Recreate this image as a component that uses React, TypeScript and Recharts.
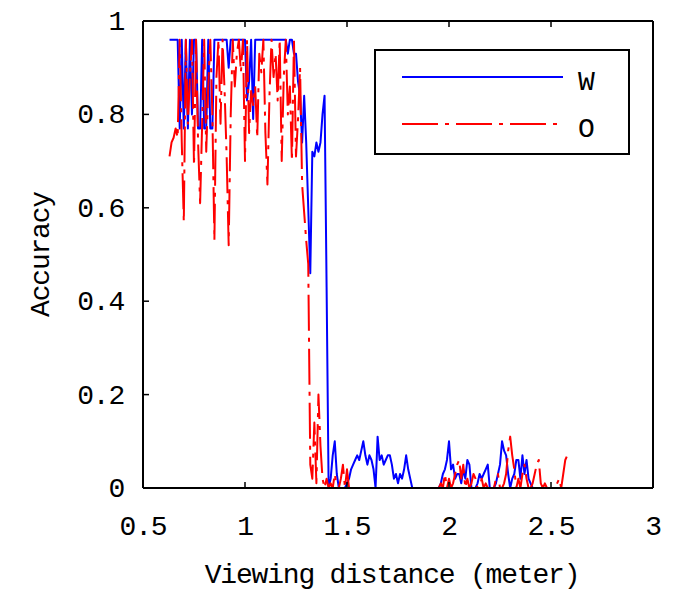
import { LineChart, Line, XAxis, YAxis, Legend } from "recharts";

// viewing distance in metres, one sample every centimetre
const distance = [
  0.63, 0.64, 0.65, 0.66, 0.67, 0.68, 0.69,
  0.7, 0.71, 0.72, 0.73, 0.74, 0.75, 0.76, 0.77, 0.78, 0.79,
  0.8, 0.81, 0.82, 0.83, 0.84, 0.85, 0.86, 0.87, 0.88, 0.89,
  0.9, 0.91, 0.92, 0.93, 0.94, 0.95, 0.96, 0.97, 0.98, 0.99,
  1.0, 1.01, 1.02, 1.03, 1.04, 1.05, 1.06, 1.07, 1.08, 1.09,
  1.1, 1.11, 1.12, 1.13, 1.14, 1.15, 1.16, 1.17, 1.18, 1.19,
  1.2, 1.21, 1.22, 1.23, 1.24, 1.25, 1.26, 1.27, 1.28, 1.29,
  1.3, 1.31, 1.32, 1.33, 1.34, 1.35, 1.36, 1.37, 1.38, 1.39,
  1.4, 1.41, 1.42, 1.43, 1.44, 1.45, 1.46, 1.47, 1.48, 1.49,
  1.5, 1.51, 1.52, 1.53, 1.54, 1.55, 1.56, 1.57, 1.58, 1.59,
  1.6, 1.61, 1.62, 1.63, 1.64, 1.65, 1.66, 1.67, 1.68, 1.69,
  1.7, 1.71, 1.72, 1.73, 1.74, 1.75, 1.76, 1.77, 1.78, 1.79,
  1.8, 1.81, 1.82, 1.83, 1.84, 1.85, 1.86, 1.87, 1.88, 1.89,
  1.9, 1.91, 1.92, 1.93, 1.94, 1.95, 1.96, 1.97, 1.98, 1.99,
  2.0, 2.01, 2.02, 2.03, 2.04, 2.05, 2.06, 2.07, 2.08, 2.09,
  2.1, 2.11, 2.12, 2.13, 2.14, 2.15, 2.16, 2.17, 2.18, 2.19,
  2.2, 2.21, 2.22, 2.23, 2.24, 2.25, 2.26, 2.27, 2.28, 2.29,
  2.3, 2.31, 2.32, 2.33, 2.34, 2.35, 2.36, 2.37, 2.38, 2.39,
  2.4, 2.41, 2.42, 2.43, 2.44, 2.45, 2.46, 2.47, 2.48, 2.49,
  2.5, 2.51, 2.52, 2.53, 2.54, 2.55, 2.56, 2.57, 2.58,
];

// W (blue, solid) - stops at 2.42
const accuracyW = [
  0.96, 0.96, 0.96, 0.96, 0.96, 0.77, 0.96,
  0.77, 0.96, 0.77, 0.96, 0.8, 0.96, 0.96, 0.77, 0.77, 0.96,
  0.77, 0.77, 0.96, 0.77, 0.77, 0.96, 0.96, 0.96, 0.96, 0.96,
  0.96, 0.96, 0.9, 0.96, 0.96, 0.96, 0.96, 0.96, 0.96, 0.96,
  0.96, 0.83, 0.87, 0.96, 0.79, 0.96, 0.96, 0.96, 0.96, 0.96,
  0.96, 0.96, 0.96, 0.96, 0.96, 0.96, 0.96, 0.96, 0.96, 0.96,
  0.96, 0.93, 0.96, 0.96, 0.93, 0.93, 0.87, 0.84, 0.74, 0.84,
  0.74, 0.6, 0.46, 0.72, 0.71, 0.74, 0.72, 0.74, 0.8, 0.84,
  0.43, 0.0, 0.02, 0.07, 0.1, 0.03, 0.0, 0.0, 0.0, 0.0,
  0.01, 0.02, 0.04, 0.05, 0.06, 0.07, 0.06, 0.08, 0.1, 0.07,
  0.05, 0.07, 0.06, 0.04, 0.0, 0.11, 0.06, 0.07, 0.05, 0.06,
  0.07, 0.07, 0.05, 0.02, 0.03, 0.01, 0.03, 0.02, 0.04, 0.07,
  0.04, 0.02, 0.0, 0.0, 0.0, 0.0, 0.0, 0.0, 0.0, 0.0,
  0.0, 0.0, 0.0, 0.0, 0.0, 0.0, 0.01, 0.03, 0.04, 0.06,
  0.1, 0.04, 0.05, 0.02, 0.03, 0.03, 0.01, 0.04, 0.02, 0.06,
  0.05, 0.0, 0.0, 0.0, 0.01, 0.03, 0.02, 0.03, 0.04, 0.05,
  0.0, 0.0, 0.0, 0.01, 0.03, 0.05, 0.1, 0.08, 0.07, 0.03,
  0.0, 0.02, 0.03, 0.06, 0.06, 0.02, 0.07, 0.03, 0.06, 0.02,
  0.01, 0.0, 0.0,
];

// O (red, dash-dot)
const accuracyO = [
  0.71, 0.74, 0.75, 0.77, 0.75, 0.96, 0.74,
  0.57, 0.96, 0.78, 0.88, 0.96, 0.69, 0.96, 0.74, 0.61, 0.78,
  0.96, 0.72, 0.86, 0.96, 0.8, 0.53, 0.88, 0.96, 0.78, 0.96,
  0.85, 0.71, 0.52, 0.8, 0.96, 0.86, 0.93, 0.96, 0.89, 0.96,
  0.7, 0.96, 0.76, 0.85, 0.82, 0.86, 0.75, 0.93, 0.89, 0.96,
  0.76, 0.65, 0.84, 0.96, 0.88, 0.93, 0.83, 0.96, 0.7, 0.88,
  0.96, 0.8, 0.86, 0.7, 0.96, 0.71, 0.79, 0.9, 0.65, 0.59,
  0.53, 0.48, 0.05, 0.02, 0.14, 0.01, 0.2, 0.09, 0.02, 0.0,
  0.02, 0.0, 0.01, 0.0, 0.03, 0.0, 0.0, 0.02, 0.05, 0.0,
  0.04, 0.0, 0.0, 0.0, 0.0, 0.0, 0.0, 0.0, 0.0, 0.0,
  0.0, 0.0, 0.0, 0.0, 0.0, 0.0, 0.0, 0.0, 0.0, 0.0,
  0.0, 0.0, 0.0, 0.0, 0.0, 0.0, 0.0, 0.0, 0.0, 0.0,
  0.0, 0.0, 0.0, 0.0, 0.0, 0.0, 0.0, 0.0, 0.0, 0.0,
  0.0, 0.0, 0.0, 0.0, 0.0, 0.0, 0.01, 0.0, 0.03, 0.0,
  0.02, 0.0, 0.01, 0.03, 0.05, 0.06, 0.02, 0.05, 0.0, 0.02,
  0.0, 0.01, 0.03, 0.02, 0.0, 0.0, 0.02, 0.0, 0.01, 0.0,
  0.0, 0.0, 0.0, 0.02, 0.03, 0.0, 0.0, 0.01, 0.03, 0.08,
  0.11, 0.07, 0.04, 0.0, 0.02, 0.0, 0.03, 0.05, 0.02, 0.0,
  0.0, 0.01, 0.03, 0.05, 0.06, 0.01, 0.0, 0.01, 0.0, 0.0,
  0.0, 0.0, 0.0, 0.01, 0.02, 0.0, 0.03, 0.06, 0.07,
];

const xTicks = [0.5, 1, 1.5, 2, 2.5, 3];
const yTicks = [0, 0.2, 0.4, 0.6, 0.8, 1];
const seriesOrder = ["w", "o"];

const FONT = "'Liberation Mono', 'DejaVu Sans Mono', monospace";
const frame = { stroke: "#000", strokeWidth: 2 };
const TICK = 6; // inward tick length
const X_GAP = 30;
const Y_GAP = 19;

const lineStyles: Record<string, { color: string; dash?: string }> = {
  w: { color: "#0000ff" },
  o: { color: "#ff0000", dash: "36 7 4 7" },
};

const data = distance.map((d, i) => ({
  d,
  w: accuracyW[i],
  o: accuracyO[i],
}));

// gnuplot-style ticks pointing into the plot, with the label outside
function BottomTick({ x, y, payload }: any) {
  const axisY = y - X_GAP;
  return (
    <g>
      <line x1={x} x2={x} y1={axisY} y2={axisY - TICK} stroke="#000" strokeWidth={1.5} />
      <text x={x} y={y + 17} textAnchor="middle" fontSize={28} fontFamily={FONT} letterSpacing={-1.2} fill="#000">
        {String(payload.value)}
      </text>
    </g>
  );
}

function LeftTick({ x, y, payload }: any) {
  const axisX = x + Y_GAP;
  return (
    <g>
      <line x1={axisX} x2={axisX + TICK} y1={y} y2={y} stroke="#000" strokeWidth={1.5} />
      <text x={x} y={y + 9} textAnchor="end" fontSize={28} fontFamily={FONT} letterSpacing={-1.2} fill="#000">
        {String(payload.value)}
      </text>
    </g>
  );
}

function TopTick({ x, y }: any) {
  return <line x1={x} x2={x} y1={y} y2={y + TICK} stroke="#000" strokeWidth={1.5} />;
}

function RightTick({ x, y }: any) {
  return <line x1={x} x2={x - TICK} y1={y} y2={y} stroke="#000" strokeWidth={1.5} />;
}

function LegendBox({ payload }: any) {
  const items = [...(payload || [])].sort(
    (a: any, b: any) => seriesOrder.indexOf(a.dataKey) - seriesOrder.indexOf(b.dataKey)
  );
  return (
    <svg width={256} height={106}>
      <rect x={1} y={1} width={254} height={104} fill="#fff" stroke="#000" strokeWidth={2} />
      {items.map((entry: any, i: number) => {
        const st = lineStyles[entry.dataKey] || { color: entry.color };
        const y = 28 + i * 47;
        return (
          <g key={entry.value}>
            <line x1={28} x2={189} y1={y} y2={y} stroke={st.color} strokeWidth={2} strokeDasharray={st.dash} />
            <text x={204} y={y + 13} fontSize={28} fontFamily={FONT} fill="#000">
              {entry.value}
            </text>
          </g>
        );
      })}
    </svg>
  );
}

export default function App() {
  return (
    <div style={{ position: "absolute", left: 0, top: 0, background: "#fff" }}>
      <LineChart width={679} height={592} data={data} margin={{ top: 20, right: 25, bottom: 0, left: 0 }}>
        <XAxis
          xAxisId="b"
          dataKey="d"
          type="number"
          domain={[0.5, 3]}
          ticks={xTicks}
          allowDataOverflow
          height={104}
          axisLine={frame}
          tickLine={false}
          tickSize={0}
          tickMargin={X_GAP}
          tick={<BottomTick />}
          label={{
            value: "Viewing distance (meter)",
            position: "insideBottom",
            offset: 9,
            dx: -6,
            fill: "#000",
            fontSize: 28,
            fontFamily: FONT,
            style: { letterSpacing: -1.2 },
          }}
        />
        <XAxis
          xAxisId="t"
          dataKey="d"
          type="number"
          orientation="top"
          domain={[0.5, 3]}
          ticks={xTicks}
          allowDataOverflow
          height={1}
          axisLine={frame}
          tickLine={false}
          tickSize={0}
          tickMargin={0}
          tick={<TopTick />}
        />
        <YAxis
          yAxisId="l"
          type="number"
          domain={[0, 1]}
          ticks={yTicks}
          width={143}
          axisLine={frame}
          tickLine={false}
          tickSize={0}
          tickMargin={Y_GAP}
          tick={<LeftTick />}
          label={{
            value: "Accuracy",
            angle: -90,
            position: "insideLeft",
            offset: 39,
            fill: "#000",
            fontSize: 28,
            fontFamily: FONT,
            style: { textAnchor: "middle", letterSpacing: -1.2 },
          }}
        />
        <YAxis
          yAxisId="r"
          type="number"
          orientation="right"
          domain={[0, 1]}
          ticks={yTicks}
          width={1}
          axisLine={frame}
          tickLine={false}
          tickSize={0}
          tickMargin={0}
          tick={<RightTick />}
        />
        <Legend
          layout="horizontal"
          verticalAlign="middle"
          align="center"
          width={256}
          height={106}
          wrapperStyle={{ left: 374, top: 49, width: 256, height: 106 }}
          content={<LegendBox />}
        />
        <Line
          xAxisId="b"
          yAxisId="l"
          dataKey="w"
          name="W"
          type="linear"
          stroke={lineStyles.w.color}
          strokeWidth={2}
          strokeLinejoin="round"
          dot={false}
          activeDot={false}
          isAnimationActive={false}
        />
        <Line
          xAxisId="b"
          yAxisId="l"
          dataKey="o"
          name="O"
          type="linear"
          stroke={lineStyles.o.color}
          strokeWidth={2}
          strokeDasharray={lineStyles.o.dash}
          strokeLinejoin="round"
          dot={false}
          activeDot={false}
          isAnimationActive={false}
        />
      </LineChart>
    </div>
  );
}
